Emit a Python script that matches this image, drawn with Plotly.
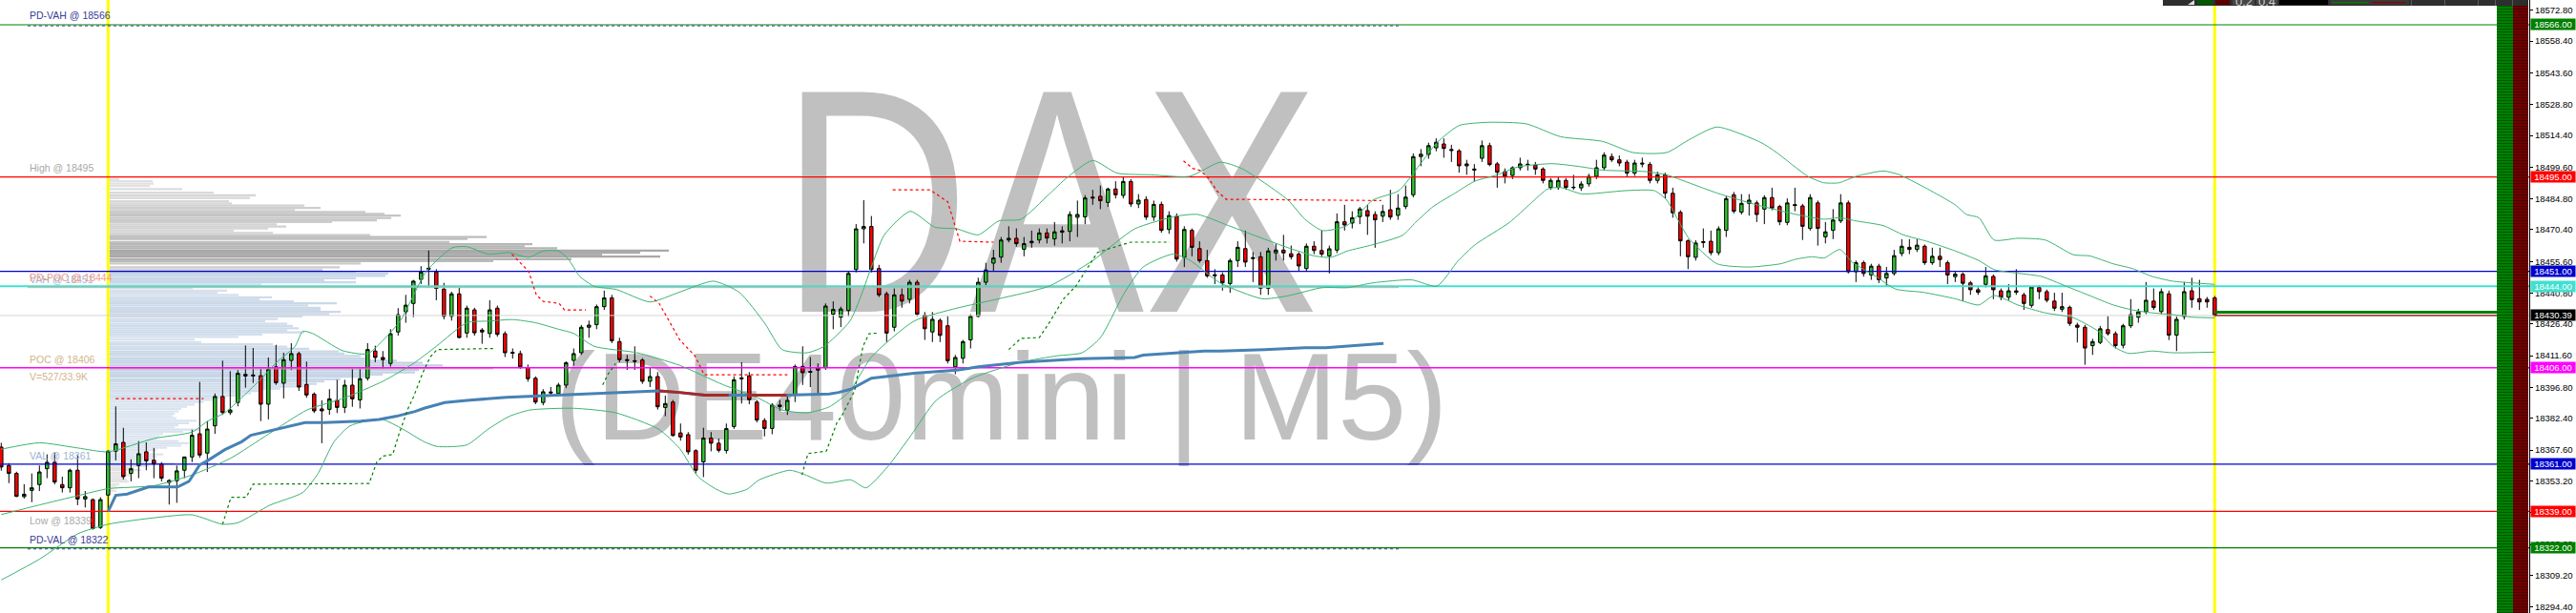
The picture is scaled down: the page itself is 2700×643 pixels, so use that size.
import base64
import plotly.graph_objects as go

# ---------------- candle data (5-minute bars, index 0..290) ----------------
opens = [
 18369.0, 18360.4, 18356.7, 18345.9, 18348.8, 18351.5, 18358.9, 18361.9, 18351.5, 18350.0,
 18358.2, 18344.8, 18344.5, 18331.5, 18346.6, 18367.1, 18371.2, 18356.7, 18360.4, 18366.8,
 18362.9, 18361.1, 18353.4, 18353.3, 18358.2, 18364.4, 18375.2, 18366.2, 18378.9, 18392.6,
 18385.1, 18389.8, 18402.9, 18402.2, 18402.3, 18389.0, 18406.4, 18398.8, 18409.4, 18412.6,
 18398.2, 18393.7, 18386.8, 18386.6, 18390.8, 18387.5, 18397.9, 18391.0, 18401.1, 18413.8,
 18410.8, 18408.0, 18422.7, 18432.1, 18436.0, 18447.2, 18451.9, 18450.7, 18442.7, 18430.0,
 18440.5, 18422.2, 18433.0, 18423.6, 18422.0, 18433.8, 18421.9, 18413.2, 18412.6, 18406.1,
 18401.1, 18389.8, 18394.7, 18394.0, 18397.9, 18409.4, 18413.0, 18424.9, 18426.1, 18434.5,
 18438.6, 18418.2, 18409.8, 18409.3, 18409.6, 18399.7, 18401.9, 18387.5, 18390.0, 18375.6,
 18374.8, 18367.3, 18362.1, 18373.2, 18370.8, 18367.4, 18378.6, 18401.3, 18402.2, 18390.0,
 18381.4, 18377.7, 18387.9, 18386.2, 18393.3, 18406.6, 18404.3, 18406.0, 18406.1, 18431.0,
 18429.6, 18432.7, 18451.8, 18470.8, 18471.9, 18452.3, 18440.5, 18424.9, 18440.0, 18437.9,
 18445.9, 18430.5, 18422.7, 18428.1, 18425.6, 18406.4, 18410.4, 18419.0, 18430.0, 18445.9,
 18454.8, 18457.6, 18465.6, 18466.4, 18461.3, 18464.3, 18465.6, 18468.9, 18466.1, 18469.2,
 18469.6, 18476.2, 18476.4, 18485.6, 18486.0, 18483.1, 18489.4, 18486.4, 18492.9, 18482.4,
 18484.5, 18476.3, 18482.2, 18470.5, 18476.6, 18457.5, 18470.1, 18461.6, 18456.0, 18449.4,
 18449.3, 18445.3, 18456.0, 18461.6, 18457.4, 18457.8, 18443.0, 18459.6, 18460.9, 18459.2,
 18459.0, 18452.3, 18462.7, 18460.7, 18458.2, 18460.9, 18474.1, 18473.5, 18476.5, 18479.3,
 18477.5, 18476.7, 18479.7, 18477.1, 18481.2, 18486.7, 18504.5, 18505.5, 18508.6, 18510.4,
 18507.8, 18507.2, 18501.1, 18498.7, 18503.7, 18509.6, 18501.1, 18497.5, 18495.7, 18499.3,
 18500.6, 18500.5, 18498.7, 18490.1, 18490.1, 18493.4, 18490.0, 18489.9, 18491.8, 18495.3,
 18499.3, 18504.5, 18503.0, 18501.9, 18496.8, 18501.0, 18500.9, 18493.4, 18496.0, 18487.4,
 18478.5, 18465.2, 18457.5, 18464.4, 18465.0, 18459.7, 18470.1, 18486.7, 18478.6, 18482.7,
 18482.9, 18480.0, 18485.4, 18481.2, 18473.8, 18482.1, 18481.5, 18471.0, 18482.9, 18467.1,
 18470.1, 18474.5, 18482.9, 18450.8, 18455.0, 18449.3, 18453.4, 18447.9, 18450.0, 18459.3,
 18462.2, 18461.2, 18462.7, 18455.0, 18458.0, 18455.0, 18448.5, 18449.6, 18445.6, 18442.4,
 18444.9, 18448.6, 18441.9, 18438.9, 18441.9, 18440.0, 18435.1, 18443.4, 18441.5, 18437.1,
 18433.3, 18434.2, 18425.9, 18424.9, 18416.3, 18417.8, 18423.8, 18421.9, 18416.5, 18425.6,
 18429.6, 18432.1, 18437.1, 18432.2, 18440.5, 18421.2, 18429.9, 18441.9, 18438.2, 18437.9,
 18438.6]
highs = [
 18371.0, 18361.5, 18357.5, 18351.7, 18356.7, 18360.4, 18365.6, 18366.3, 18355.2, 18358.9,
 18365.6, 18348.5, 18345.0, 18345.6, 18367.5, 18388.0, 18378.0, 18363.3, 18371.8, 18371.2,
 18368.6, 18362.0, 18354.0, 18360.4, 18364.5, 18377.1, 18399.4, 18381.1, 18394.0, 18409.3,
 18404.4, 18404.9, 18416.4, 18415.2, 18405.6, 18410.8, 18416.7, 18413.0, 18417.5, 18413.5,
 18408.9, 18394.5, 18390.8, 18396.0, 18400.4, 18400.4, 18405.6, 18405.6, 18417.5, 18416.3,
 18413.8, 18424.0, 18433.8, 18440.0, 18447.0, 18453.4, 18460.7, 18452.0, 18445.6, 18441.5,
 18443.4, 18435.0, 18434.0, 18424.5, 18437.5, 18435.0, 18423.0, 18415.0, 18414.0, 18407.5,
 18402.0, 18396.0, 18397.0, 18399.0, 18409.0, 18415.0, 18426.0, 18428.0, 18435.5, 18442.0,
 18440.0, 18420.0, 18412.0, 18416.0, 18410.5, 18406.0, 18404.0, 18393.0, 18391.0, 18380.0,
 18376.0, 18368.0, 18378.0, 18376.0, 18373.0, 18380.0, 18402.0, 18408.6, 18404.0, 18391.0,
 18382.5, 18389.5, 18391.0, 18393.0, 18407.5, 18416.0, 18411.0, 18408.0, 18436.0, 18437.0,
 18434.5, 18451.0, 18473.0, 18484.2, 18476.8, 18454.0, 18441.5, 18443.0, 18443.0, 18447.0,
 18447.0, 18432.0, 18432.0, 18429.0, 18430.0, 18412.0, 18419.0, 18431.0, 18448.0, 18455.0,
 18461.0, 18467.0, 18472.0, 18471.0, 18467.0, 18470.0, 18471.0, 18471.0, 18474.0, 18472.0,
 18479.0, 18484.0, 18486.5, 18489.0, 18491.0, 18490.0, 18493.0, 18495.0, 18494.0, 18487.0,
 18486.0, 18484.0, 18483.5, 18479.0, 18478.0, 18472.0, 18471.0, 18465.0, 18461.0, 18452.0,
 18450.5, 18457.0, 18465.0, 18470.0, 18460.0, 18460.0, 18462.0, 18464.0, 18468.0, 18463.0,
 18460.0, 18464.0, 18465.0, 18470.0, 18463.0, 18478.0, 18482.0, 18479.0, 18481.0, 18482.0,
 18479.0, 18482.0, 18489.0, 18487.0, 18491.0, 18506.0, 18508.0, 18511.0, 18513.0, 18513.0,
 18510.0, 18508.0, 18503.0, 18501.0, 18512.0, 18511.0, 18502.0, 18499.0, 18500.0, 18504.0,
 18503.0, 18502.0, 18499.5, 18494.5, 18495.0, 18494.5, 18496.0, 18493.0, 18496.5, 18503.0,
 18506.5, 18506.0, 18505.0, 18503.0, 18503.0, 18504.0, 18502.0, 18497.5, 18497.0, 18490.0,
 18479.5, 18466.0, 18465.5, 18471.0, 18470.0, 18472.0, 18486.0, 18488.0, 18487.0, 18487.0,
 18484.0, 18486.5, 18490.0, 18482.0, 18485.0, 18490.0, 18482.5, 18487.0, 18484.0, 18474.0,
 18480.0, 18487.0, 18484.0, 18456.0, 18456.0, 18454.5, 18454.5, 18453.0, 18461.0, 18466.0,
 18466.0, 18466.0, 18463.5, 18462.0, 18462.0, 18456.0, 18451.0, 18450.5, 18446.5, 18443.5,
 18453.0, 18449.5, 18443.0, 18445.0, 18452.0, 18441.0, 18444.0, 18444.5, 18442.5, 18441.0,
 18441.0, 18435.0, 18427.0, 18426.0, 18419.5, 18425.5, 18430.0, 18423.0, 18426.5, 18438.0,
 18433.5, 18446.0, 18443.0, 18443.0, 18442.0, 18430.0, 18446.0, 18448.0, 18447.0, 18439.0,
 18439.5]
lows = [
 18358.0, 18352.2, 18345.7, 18345.0, 18343.3, 18348.5, 18354.5, 18351.6, 18347.8, 18347.8,
 18341.9, 18340.8, 18330.5, 18330.8, 18338.9, 18362.8, 18353.9, 18353.0, 18354.5, 18358.2,
 18354.5, 18353.0, 18342.2, 18343.0, 18354.5, 18362.0, 18364.0, 18357.4, 18375.2, 18384.0,
 18384.0, 18388.0, 18396.7, 18398.9, 18381.1, 18381.9, 18398.0, 18391.7, 18404.9, 18395.2,
 18392.0, 18384.9, 18370.8, 18384.1, 18384.9, 18384.9, 18387.8, 18387.0, 18400.0, 18408.6,
 18405.6, 18406.5, 18421.0, 18427.0, 18429.6, 18445.0, 18443.4, 18437.5, 18428.6, 18428.0,
 18419.7, 18420.0, 18421.0, 18417.2, 18420.0, 18420.5, 18411.0, 18410.3, 18405.5, 18399.5,
 18389.0, 18388.5, 18393.0, 18393.0, 18396.5, 18407.0, 18412.0, 18420.0, 18424.0, 18433.0,
 18417.5, 18408.5, 18405.0, 18405.0, 18398.5, 18397.0, 18386.5, 18383.4, 18373.9, 18372.0,
 18365.5, 18356.7, 18355.0, 18367.0, 18366.5, 18366.0, 18377.5, 18389.3, 18389.0, 18380.5,
 18374.0, 18375.0, 18386.0, 18384.0, 18390.0, 18398.0, 18397.0, 18394.0, 18405.0, 18424.0,
 18425.0, 18430.0, 18450.5, 18464.0, 18450.5, 18439.0, 18418.0, 18423.0, 18434.0, 18436.0,
 18430.0, 18419.0, 18418.0, 18418.0, 18408.0, 18403.0, 18408.0, 18415.0, 18429.5, 18444.5,
 18451.0, 18455.0, 18464.5, 18462.5, 18458.0, 18462.0, 18464.0, 18464.0, 18463.0, 18464.0,
 18465.0, 18467.0, 18473.0, 18482.0, 18480.0, 18481.0, 18485.0, 18485.0, 18481.0, 18480.5,
 18475.0, 18474.5, 18469.0, 18468.5, 18455.5, 18453.0, 18458.0, 18455.0, 18448.0, 18445.0,
 18442.0, 18441.0, 18453.0, 18453.0, 18446.0, 18440.0, 18440.0, 18456.0, 18456.0, 18456.5,
 18451.0, 18451.0, 18459.0, 18458.0, 18450.0, 18459.5, 18470.0, 18471.0, 18473.0, 18468.0,
 18462.0, 18474.0, 18475.0, 18475.0, 18480.0, 18485.5, 18500.0, 18503.5, 18507.0, 18504.0,
 18502.0, 18497.0, 18496.0, 18493.0, 18502.0, 18500.0, 18490.0, 18492.0, 18494.0, 18498.0,
 18498.0, 18496.0, 18492.0, 18489.0, 18489.0, 18489.0, 18489.0, 18488.5, 18490.5, 18494.0,
 18498.0, 18502.0, 18500.0, 18495.0, 18495.5, 18499.5, 18492.0, 18492.0, 18485.0, 18476.0,
 18458.0, 18452.0, 18456.0, 18462.0, 18458.5, 18458.5, 18467.0, 18478.0, 18477.5, 18477.0,
 18474.0, 18473.0, 18479.5, 18472.5, 18472.5, 18479.0, 18465.6, 18470.0, 18463.0, 18464.0,
 18466.0, 18473.5, 18450.0, 18446.0, 18448.5, 18447.0, 18445.5, 18444.0, 18449.0, 18458.0,
 18459.0, 18460.0, 18454.0, 18454.0, 18453.0, 18445.0, 18446.0, 18437.0, 18440.0, 18440.0,
 18443.5, 18438.0, 18437.5, 18437.5, 18440.0, 18433.0, 18434.0, 18438.0, 18436.5, 18432.5,
 18432.0, 18425.5, 18417.8, 18407.4, 18412.0, 18417.0, 18421.0, 18415.0, 18415.0, 18424.5,
 18427.0, 18431.0, 18433.0, 18431.0, 18418.9, 18413.8, 18428.5, 18434.0, 18433.0, 18434.0,
 18430.0]
closes = [
 18359.7, 18356.7, 18346.0, 18347.0, 18350.0, 18357.4, 18361.9, 18352.7, 18350.0, 18358.2,
 18344.8, 18345.9, 18331.0, 18344.5, 18367.1, 18370.5, 18355.2, 18358.9, 18365.9, 18362.6,
 18361.1, 18354.5, 18352.5, 18357.9, 18364.4, 18374.5, 18365.3, 18377.4, 18392.6, 18385.1,
 18386.3, 18403.4, 18402.2, 18402.6, 18389.0, 18405.3, 18399.0, 18409.8, 18412.6, 18397.0,
 18393.3, 18385.9, 18385.9, 18391.5, 18387.5, 18397.9, 18391.5, 18400.9, 18414.5, 18410.8,
 18409.8, 18421.9, 18430.8, 18435.2, 18446.4, 18450.7, 18452.4, 18443.0, 18430.0, 18440.5,
 18420.1, 18433.8, 18422.3, 18422.7, 18433.0, 18421.6, 18413.0, 18412.8, 18406.4, 18400.9,
 18390.0, 18394.8, 18394.3, 18397.9, 18408.3, 18412.6, 18424.9, 18425.9, 18434.5, 18438.6,
 18418.6, 18409.8, 18409.4, 18409.0, 18399.7, 18401.9, 18387.8, 18389.3, 18374.4, 18373.7,
 18366.8, 18358.2, 18373.2, 18370.8, 18367.5, 18377.6, 18400.4, 18400.9, 18391.1, 18381.6,
 18377.7, 18388.6, 18388.6, 18390.8, 18406.6, 18403.7, 18403.9, 18404.9, 18434.8, 18433.2,
 18433.4, 18450.0, 18470.8, 18471.9, 18451.8, 18440.0, 18422.2, 18440.0, 18437.1, 18445.9,
 18431.0, 18424.2, 18428.6, 18421.1, 18409.3, 18410.8, 18418.2, 18430.0, 18445.9, 18451.6,
 18457.2, 18465.6, 18466.4, 18463.9, 18463.9, 18465.0, 18468.9, 18466.5, 18469.4, 18469.9,
 18477.5, 18477.5, 18485.2, 18485.2, 18483.9, 18489.4, 18486.7, 18492.9, 18482.4, 18484.2,
 18476.3, 18482.2, 18470.1, 18477.0, 18456.7, 18470.5, 18462.2, 18456.0, 18448.9, 18449.0,
 18445.6, 18456.0, 18462.2, 18455.3, 18457.0, 18443.1, 18460.5, 18460.9, 18459.6, 18457.8,
 18453.5, 18462.7, 18460.7, 18459.0, 18461.5, 18474.1, 18472.6, 18476.0, 18480.1, 18476.7,
 18475.0, 18478.9, 18476.3, 18480.5, 18485.6, 18504.5, 18505.6, 18509.6, 18511.2, 18508.3,
 18507.4, 18500.2, 18500.2, 18498.3, 18509.6, 18500.8, 18497.2, 18495.3, 18499.3, 18501.1,
 18500.9, 18498.7, 18493.4, 18493.4, 18493.4, 18490.1, 18490.2, 18491.7, 18495.3, 18499.3,
 18505.2, 18503.0, 18501.5, 18496.8, 18501.5, 18501.4, 18493.4, 18496.0, 18487.4, 18478.3,
 18465.2, 18457.8, 18464.2, 18464.8, 18459.7, 18470.8, 18484.9, 18479.0, 18482.7, 18484.2,
 18477.5, 18485.4, 18480.5, 18474.1, 18482.9, 18481.7, 18472.0, 18485.4, 18471.0, 18469.4,
 18474.9, 18482.9, 18450.8, 18455.0, 18450.0, 18453.4, 18447.1, 18450.0, 18458.3, 18462.7,
 18461.2, 18463.2, 18455.0, 18458.0, 18456.5, 18449.3, 18449.7, 18445.4, 18442.4, 18441.2,
 18448.9, 18442.4, 18438.9, 18441.9, 18441.2, 18436.0, 18443.7, 18441.5, 18437.5, 18433.8,
 18434.5, 18426.7, 18424.9, 18415.2, 18418.2, 18424.2, 18421.9, 18416.3, 18425.6, 18430.8,
 18432.1, 18437.5, 18434.1, 18441.5, 18421.2, 18428.6, 18441.5, 18437.8, 18436.7, 18436.7,
 18430.39]

# ---------------- Bollinger bands (bar index, price) ----------------
bb_upper_x = [0, 5, 10, 14, 20, 25, 27, 29.3, 31.5, 33.7, 36.1, 38.5, 39.5, 40.8, 44.7, 48, 49.8, 52.3, 55.7, 59.1,
              61, 63.8, 66.6, 69.1, 71, 73, 74.3, 75.8, 77.7, 80.6, 85, 88.8, 93.3, 96.7, 100.1, 102.3, 105.6, 107.8,
              111.2, 112.8, 114, 115.7, 119.1, 122.3, 125.2, 128, 130.7, 133.6, 137.3, 139.6, 143, 146.2, 150.7, 155.7,
              159.7, 162.5, 165.2, 168.6, 170.8, 173.1, 176.3, 179.7, 183.1, 185.8, 188.1, 191, 194.8, 199.8, 204.3,
              209.8, 213.8, 218.2, 221.1, 224.8, 230.6, 232.6, 236.7, 238.8, 240.8, 243, 246.6, 248.7, 252.8, 256,
              257.5, 259.1, 261.1, 264.2, 267.8, 271.5, 273.6, 276.7, 279.2, 281.8, 284.5, 287.1, 290]
bb_upper_y = [18368, 18371, 18368.6, 18366.8, 18373, 18376, 18381, 18385, 18392, 18399.6, 18408.6, 18416, 18423, 18422,
              18414, 18412.5, 18418, 18428, 18451, 18462, 18462.5, 18459, 18459.7, 18457.5, 18460.5, 18460.5, 18456.7,
              18448.6, 18444, 18442.5, 18436.7, 18441.2, 18446.4, 18441.2, 18426.4, 18414.5, 18413, 18416, 18427.8,
              18441, 18453, 18468, 18479, 18471.6, 18470.8, 18468, 18474.5, 18475.3, 18487, 18494.6, 18502.7, 18496.8,
              18496, 18495.3, 18501.9, 18499, 18493, 18484.2, 18475.3, 18470, 18472.3, 18484.2, 18488.6, 18500.5,
              18511, 18519, 18520.5, 18519.8, 18513.8, 18511.6, 18506.4, 18506.4, 18512.3, 18518.3, 18511, 18506.4,
              18495.3, 18492.3, 18492.3, 18495.3, 18497.8, 18496, 18488.6, 18482, 18477.5, 18476, 18465.6, 18466.4,
              18465.6, 18458.7, 18458.2, 18454.5, 18452.3, 18448.6, 18446.4, 18445.6, 18444.9]
bb_mid_x = [0, 5, 10, 14, 20, 25, 30, 35, 40, 45, 50, 54, 57, 61, 64, 67, 70, 73, 75, 77.7, 83.3, 88.9, 94.5, 99,
            102.3, 105.6, 108.5, 111.2, 114, 119.6, 125.2, 130.7, 137.3, 143, 148.5, 154.1, 156.8, 160.8, 165.2,
            168.6, 172, 174.2, 176.4, 179.7, 183.6, 185.3, 187.6, 190.3, 193.1, 196, 198.7, 203.2, 207.1, 209.8,
            215.5, 218.2, 221.1, 224.8, 230, 235.2, 238.8, 240.9, 243, 246.6, 249.2, 252.3, 256, 259.1, 261.1,
            264.2, 267.3, 270.5, 273.6, 276.7, 279.2, 281.8, 284.5, 287.1, 290]
bb_mid_y = [18337.5, 18342, 18346.3, 18349.6, 18351, 18356, 18363.7, 18375, 18386.2, 18392, 18399.7, 18408, 18416,
            18427, 18427.8, 18428.5, 18427, 18424, 18422, 18416, 18413, 18407.1, 18398.2, 18392.2, 18386.3, 18385,
            18387.8, 18395.2, 18411, 18427.8, 18433.8, 18438.2, 18444.1, 18456, 18470.8, 18476.8, 18477.5, 18472.3,
            18466.4, 18462, 18458.2, 18457.5, 18460.5, 18463.4, 18467.8, 18473.8, 18481.2, 18487.1, 18493.1, 18496,
            18499.7, 18501.2, 18499.7, 18498.2, 18497.5, 18496, 18492.3, 18487.5, 18482, 18477.5, 18475.3, 18476,
            18474.5, 18472.3, 18468, 18465, 18460.5, 18456, 18451.8, 18450.1, 18448.6, 18444.1, 18439.7, 18435.3,
            18433, 18431.6, 18430.8, 18429.6, 18429.3]
bb_lower_x = [0, 5, 10, 14, 20, 25, 29, 31, 35.2, 39.5, 41.5, 43.6, 45.7, 49.8, 52.6, 55.4, 57.1, 61, 63.8, 66.6,
              69.3, 75, 80.5, 86.1, 88.9, 91.3, 93.7, 95.3, 97.7, 99.3, 103.3, 104.9, 108.1, 111.3, 113.3, 116.1,
              119.2, 122.5, 127.2, 133.6, 138.4, 141.6, 144, 147.2, 149.6, 153.5, 155.7, 159.7, 165.2, 168.6, 173.1,
              176.4, 179.7, 184.8, 188.1, 190.9, 193.1, 197.6, 200.4, 202.6, 204.3, 207.1, 212.7, 216.6, 218.2, 221.1,
              224.8, 229, 233.1, 235.2, 237.3, 238.8, 240.9, 242.5, 245.6, 248.2, 251.8, 256, 259.1, 261.1, 264.2,
              267.8, 270.5, 271.5, 274.6, 276.7, 278.7, 281.8, 284.5, 290]
bb_lower_y = [18307, 18316.7, 18328.5, 18333, 18336, 18337.4, 18333, 18333.7, 18341.9, 18347.8, 18356.7, 18371.5,
              18378.9, 18382, 18377.4, 18371.5, 18369.3, 18370, 18377.4, 18383.4, 18386.3, 18387.1, 18385, 18377.4,
              18368.3, 18355.2, 18349.3, 18347.1, 18349.3, 18353.7, 18358.2, 18356.7, 18352.2, 18353.7, 18350,
              18359.7, 18374.5, 18390.8, 18401.1, 18408.6, 18411.6, 18413, 18420, 18441.2, 18453, 18459, 18456.2,
              18445.6, 18438.2, 18439.6, 18443.4, 18443.4, 18445.6, 18447, 18444.1, 18456, 18463.4, 18473.8, 18482.7,
              18489.4, 18490.1, 18487.1, 18488.6, 18488.6, 18484.2, 18466.4, 18454.5, 18453, 18454.5, 18456.7,
              18457.8, 18457.2, 18461.2, 18455.3, 18448.6, 18442.7, 18441.2, 18438.2, 18435.3, 18439.7, 18435.3,
              18431.6, 18430.1, 18429.3, 18423.4, 18416, 18412.7, 18413.8, 18413, 18413.3]

# ---------------- session VWAP ----------------
vwap_x = [14, 15, 16.5, 19.3, 23.1, 24.6, 26, 27, 29.3, 31.5, 32.7, 35.6, 39.8, 42.3, 47.1, 49.5, 51.8, 54.2, 55.4,
          58.1, 61, 66.2, 71, 75.7, 80.6, 86.1, 88.8, 92.2, 95.6, 97.8, 102.8, 108.5, 109.7, 111.3, 114, 119.6,
          125.2, 128, 133.6, 137.3, 141.6, 148.5, 149.6, 157.6, 159.7, 165.5, 170.8, 173.5, 181.1]
vwap_y = [18338.9, 18346.5, 18347.1, 18350.4, 18350.4, 18353, 18360.7, 18362.6, 18367.8, 18371.5, 18374.5, 18377,
          18380.4, 18380.4, 18381.1, 18381.9, 18383.4, 18385.6, 18387.1, 18389.8, 18390.8, 18392.2, 18393, 18393.8,
          18394.5, 18395.2, 18394.5, 18393.2, 18393.2, 18393.2, 18393.2, 18393.8, 18394.5, 18396, 18401.1, 18403.4,
          18404.9, 18406.4, 18408.6, 18409.3, 18410.2, 18410.8, 18411.9, 18413.8, 18413.8, 18414.5, 18415.3,
          18415.3, 18417.4]
vwap_dn1_x = [86.2, 88.8, 92.2, 95.3]
vwap_dn1_y = [18395.2, 18394.5, 18393.2, 18393.2]
vwap_dn2_x = [97.7, 102.9]
vwap_dn2_y = [18393.2, 18393.2]

# ---------------- trailing stop (red above / green below) ----------------
stop_red = [
    ([15, 26.5], [18391.6, 18391.6]),
    ([66.9, 68, 69.1, 70.1, 71, 73.1, 73.8, 76.6], [18459, 18455, 18451, 18440, 18437, 18436, 18433, 18433]),
    ([85, 86.2, 88.9, 90.9, 92.1, 103], [18439.5, 18436, 18419, 18411.5, 18402.7, 18402.7]),
    ([116.8, 121.7, 124, 125.6, 130], [18489, 18489, 18483.4, 18465, 18464.6]),
    ([154.9, 156.1, 157.1, 158.2, 159.3, 160.5, 180.8], [18502.5, 18499, 18498, 18494.3, 18488.4, 18484.6, 18484]),
]
stop_green = [
    ([29, 30.1, 32.1, 33, 48.2, 49.2, 50, 51.3, 52.1, 53.3, 54, 55.2, 56.2, 57.1, 64.5],
     [18333, 18345.6, 18345.6, 18351.7, 18352, 18362, 18364.8, 18365.6, 18375, 18387, 18392.3, 18403.4, 18411,
      18414.5, 18415]),
    ([78.8, 79.5, 80.5], [18398, 18403, 18408]),
    ([104.9, 105.7, 108.1, 109.5, 110.1, 111.8, 112.9, 113.7, 115],
     [18356, 18366, 18367.1, 18380.5, 18383.4, 18395.2, 18416, 18421.9, 18422.2]),
    ([132, 133.6, 136, 137.2, 139.2, 140.8, 142, 143.6, 144.8, 148, 153.1],
     [18414.5, 18419.7, 18420.1, 18426.4, 18438.2, 18444.1, 18450.8, 18459.7, 18461.2, 18464.6, 18464.6]),
]

# ---------------- volume profile of the session ----------------
prof_price = [
 18494.0, 18493.0, 18491.9, 18490.8, 18489.3, 18487.7, 18486.4, 18485.2, 18483.7, 18482.7, 18481.7, 18480.5,
 18479.6, 18478.7, 18477.8, 18477.0, 18475.9, 18474.8, 18474.0, 18472.9, 18471.9, 18471.0, 18470.0, 18468.9,
 18467.9, 18467.0, 18466.1, 18464.6, 18463.7, 18462.7, 18461.8, 18460.6, 18459.7, 18458.8, 18457.9, 18456.7,
 18455.8, 18454.7, 18452.9, 18451.8,
 18450.8, 18449.9, 18448.9, 18447.8, 18446.9, 18445.9, 18444.9, 18443.1, 18442.0, 18441.0, 18440.0, 18438.9,
 18438.0, 18437.0, 18436.1, 18435.1, 18434.0, 18433.0, 18432.1, 18431.1, 18430.0, 18428.7, 18427.7, 18426.5,
 18425.5, 18424.4, 18423.4, 18422.5, 18421.5, 18420.4, 18419.2, 18418.0, 18417.0, 18415.9, 18414.8, 18413.6,
 18412.6, 18411.5, 18410.3, 18409.3, 18408.3, 18407.1, 18406.0, 18404.9, 18403.8, 18402.8, 18401.8, 18400.6,
 18399.6, 18398.5, 18397.3, 18396.3, 18395.2, 18394.2, 18393.1, 18392.0, 18391.0, 18390.0, 18388.8, 18387.8,
 18386.8, 18385.6, 18384.5, 18383.5, 18382.5, 18381.3, 18380.2, 18379.2, 18378.2, 18377.1, 18376.1, 18375.0,
 18373.9, 18372.8, 18371.8, 18370.8, 18369.7, 18368.7, 18367.6, 18366.6, 18365.6, 18364.5, 18363.5, 18362.5,
 18361.4,
 18360.2, 18359.2, 18358.2, 18357.0, 18355.9, 18354.9, 18353.9, 18352.9, 18351.6, 18350.6, 18349.6, 18348.6]
prof_vol = [
 10, 45, 46, 42, 76, 109, 153, 147, 125, 128, 204, 221,
 194, 268, 288, 305, 295, 280, 233, 175, 185, 166, 130, 171,
 273, 395, 375, 356, 443, 435, 469, 586, 556, 516, 577, 484,
 402, 263, 241, 223,
 258, 292, 289, 258, 225, 258, 159, 87, 123, 113, 135, 170,
 157, 193, 238, 208, 221, 221, 242, 230, 202, 176, 163, 186,
 192, 198, 186, 204, 160, 135, 89, 96, 171, 186, 209, 240,
 246, 263, 271, 301, 328, 349, 336, 324, 320, 286, 271, 242,
 225, 217, 209, 179, 156, 148, 140, 121, 110, 98, 89, 81,
 75, 72, 68, 66, 70, 91, 83, 72, 68, 95, 77, 56,
 52, 49, 72, 83, 75, 60, 49, 41, 56, 49, 45, 41,
 68,
 41, 26, 33, 18, 22, 14, 18, 20, 10, 7, 3, 7]

# ---------------- key levels ----------------
PD_VAH, DAY_HIGH, VAH, PD_POC = 18566, 18495, 18451, 18444
LAST_PRICE, ASK_PRICE = 18430.39, 18431.9
POC, VAL, DAY_LOW, PD_VAL = 18406, 18361, 18339, 18322
SESSION_START, SESSION_END = 14, 290
axis_ticks = [18572.80, 18558.40, 18543.60, 18528.80, 18514.40, 18499.60, 18484.80, 18470.40, 18455.60, 18440.80,
              18426.40, 18411.60, 18396.80, 18382.40, 18367.60, 18353.20, 18338.40, 18323.60, 18309.20, 18294.40]

# ---------------- layout constants ----------------
W, H = 2700, 643
PLOT_W = 2651
PX_PER_BAR = 8.0
X_MIN, X_MAX = -0.1625, 331.21
Y_MIN, Y_MAX = 18291.6, 18577.56
PRICE_PER_PX = (Y_MAX - Y_MIN) / H
FONT = "Liberation Sans, Arial, sans-serif"

def kx(px):
    return (px - 1.3) / PX_PER_BAR

def py_price(py):
    return Y_MAX - py * PRICE_PER_PX

def paper_x(px):
    return px / PLOT_W

def paper_y(py):
    return 1 - py / H

fig = go.Figure()

# volume profile
maxv = max(prof_vol)
prof_colors = []
for p, v in zip(prof_price, prof_vol):
    t = v / maxv
    if VAL <= p <= VAH:
        r = int(226 - 56 * t); g = int(234 - 42 * t); b = int(243 - 24 * t)
    else:
        r = g = b = int(230 - 62 * t)
    prof_colors.append(f"rgb({r},{g},{b})")
fig.add_trace(go.Bar(orientation="h", y=prof_price, x=[v / PX_PER_BAR for v in prof_vol],
                     base=kx(115), width=1.0, marker=dict(color=prof_colors, line=dict(width=0)),
                     hoverinfo="skip", showlegend=False))

# candles
idx = list(range(len(closes)))
fig.add_trace(go.Candlestick(x=idx, open=opens, high=highs, low=lows, close=closes,
                             increasing=dict(line=dict(color="black", width=1), fillcolor="#2ec52e"),
                             decreasing=dict(line=dict(color="black", width=1), fillcolor="#ff0000"),
                             whiskerwidth=0, showlegend=False, hoverinfo="skip"))

def hline(price, color, width, x0=X_MIN, x1=X_MAX, dash="solid"):
    fig.add_trace(go.Scatter(x=[x0, x1], y=[price, price], mode="lines",
                             line=dict(color=color, width=width, dash=dash),
                             hoverinfo="skip", showlegend=False))

hline(LAST_PRICE, "#d4d4d4", 1)
hline(PD_VAH, "#008000", 1.2)
hline(PD_VAH - 0.5, "#3b3ba0", 1, kx(29), kx(1466), "dot")
hline(DAY_HIGH, "#ff0000", 1.2)
hline(VAH, "#0000cd", 1.3)
hline(PD_POC - 0.6, "#f0a090", 1, kx(29), kx(1466))
hline(PD_POC, "#40e0d0", 2)
hline(POC - 0.5, "#d2b48c", 1, kx(115), kx(517))
hline(POC, "#ff00ff", 1.5)
hline(VAL, "#0000cd", 1.3)
hline(DAY_LOW, "#ff0000", 1.2)
hline(PD_VAL, "#008000", 1.2)
hline(PD_VAL - 0.5, "#3b3ba0", 1, kx(29), kx(1466), "dot")
hline(ASK_PRICE, "#008000", 3, SESSION_END, kx(2617))
hline(LAST_PRICE, "#8b0000", 1.2, SESSION_END, kx(2617))

# bollinger bands
for bx, by in ((bb_upper_x, bb_upper_y), (bb_mid_x, bb_mid_y), (bb_lower_x, bb_lower_y)):
    fig.add_trace(go.Scatter(x=bx, y=by, mode="lines", line=dict(color="#3cb371", width=1, shape="spline",
                                                                 smoothing=0.6),
                             hoverinfo="skip", showlegend=False))

# vwap
fig.add_trace(go.Scatter(x=vwap_x, y=vwap_y, mode="lines", line=dict(color="#4682b4", width=3),
                         hoverinfo="skip", showlegend=False))
for bx, by in ((vwap_dn1_x, vwap_dn1_y), (vwap_dn2_x, vwap_dn2_y)):
    fig.add_trace(go.Scatter(x=bx, y=by, mode="lines", line=dict(color="#a52a2a", width=3),
                             hoverinfo="skip", showlegend=False))

# trailing stops
for sx, sy in stop_red:
    fig.add_trace(go.Scatter(x=sx, y=sy, mode="lines", line=dict(color="#ff0000", width=1.2, dash="dot"),
                             hoverinfo="skip", showlegend=False))
for sx, sy in stop_green:
    fig.add_trace(go.Scatter(x=sx, y=sy, mode="lines", line=dict(color="#008000", width=1.2, dash="dot"),
                             hoverinfo="skip", showlegend=False))

# ---------------- watermark "DAX" as a stretched svg text image ----------------
dax_svg = ('<svg xmlns="http://www.w3.org/2000/svg" width="197" height="72" viewBox="7.6 28.4 197.6 71.6" '
           'preserveAspectRatio="none"><text x="0" y="100" font-family="Liberation Sans, Arial, sans-serif" '
           'font-size="100" fill="#c0c0c0">DAX</text></svg>')
dax_src = "data:image/svg+xml;base64," + base64.b64encode(dax_svg.encode()).decode()
DAX_BOX = (839, 1381, 87, 327)   # left, right, top, bottom in pixels
images = [dict(source=dax_src, xref="x", yref="y", x=kx(DAX_BOX[0]), y=py_price(DAX_BOX[2]),
               sizex=(DAX_BOX[1] - DAX_BOX[0]) / PX_PER_BAR,
               sizey=(DAX_BOX[3] - DAX_BOX[2]) * PRICE_PER_PX,
               xanchor="left", yanchor="top", sizing="stretch", layer="below", opacity=1)]

shapes = []
shapes.append(dict(type="rect", xref="x", yref="y", x0=119, x1=143, y0=18390, y1=18405.4, layer="below",
                   line=dict(width=0), fillcolor="rgba(0,0,0,0)",
                   label=dict(text="(DE40mini | M5)", textposition="middle center",
                              font=dict(size=130, color="#c0c0c0", family=FONT))))
# session separators
for sx in (SESSION_START, SESSION_END):
    shapes.append(dict(type="line", xref="x", yref="paper", x0=sx, x1=sx, y0=0, y1=1, layer="below",
                       line=dict(color="#ffff00", width=3)))
# depth-of-market columns
shapes.append(dict(type="rect", xref="paper", yref="paper", x0=paper_x(2617), x1=paper_x(2634), y0=0, y1=1,
                   fillcolor="#008000", line=dict(width=0), layer="above"))
shapes.append(dict(type="rect", xref="paper", yref="paper", x0=paper_x(2634), x1=paper_x(2650), y0=0, y1=1,
                   fillcolor="#700000", line=dict(width=0), layer="above"))
g_path = "".join(f"M{paper_x(2617)},{paper_y(py + 0.5)} H{paper_x(2634)} " for py in range(0, H, 3))
r_path = "".join(f"M{paper_x(2634)},{paper_y(py + 0.5)} H{paper_x(2650)} " for py in range(0, H, 3))
shapes.append(dict(type="path", xref="paper", yref="paper", path=g_path, line=dict(color="#005800", width=1),
                   layer="above"))
shapes.append(dict(type="path", xref="paper", yref="paper", path=r_path, line=dict(color="#4a0000", width=1),
                   layer="above"))
# terminal toolbar strip at the top
def tb_rect(x0, x1, y0, y1, color):
    shapes.append(dict(type="rect", xref="paper", yref="paper", x0=paper_x(x0), x1=paper_x(x1),
                       y0=paper_y(y1), y1=paper_y(y0), fillcolor=color, line=dict(width=0), layer="above"))
tb_rect(2267, 2650, 0, 6, "#2e2e2e")
tb_rect(2303, 2319, 0, 5, "#005800")
tb_rect(2322, 2337, 0, 5, "#5a0000")
tb_rect(2340, 2363, 0, 5, "#464646")
tb_rect(2365, 2387, 0, 5, "#464646")
tb_rect(2389, 2440, 0, 5, "#000000")
tb_rect(2442, 2525, 0, 5, "#3a3a3a")
tb_rect(2444, 2482, 2, 3.2, "#008000")
tb_rect(2486, 2522, 2, 3.2, "#8b0000")
for sx in (2527, 2562, 2597, 2615, 2633):
    tb_rect(sx, sx + 1, 0, 6, "#5a5a5a")
shapes.append(dict(type="path", xref="paper", yref="paper", layer="above", fillcolor="#e0e0e0",
                   line=dict(width=0),
                   path=f"M{paper_x(2293)},{paper_y(5)} L{paper_x(2300)},{paper_y(5)} L{paper_x(2300)},{paper_y(0)} Z"))

annotations = []
def left_label(text, price, shift, color):
    annotations.append(dict(xref="paper", yref="y", x=paper_x(29), y=price, yshift=shift, xanchor="left",
                            yanchor="middle", text=text, showarrow=False,
                            font=dict(size=10.5, color=color, family=FONT)))

left_label("PD-VAH @ 18566", PD_VAH, 10, "#3b3b98")
left_label("High @ 18495", DAY_HIGH, 9.5, "#a9a9a9")
left_label("VAH @ 18451", VAH, -8, "#9fb4d0")
left_label("PD-POC @ 18444", PD_POC, 9, "#f09a8a")
left_label("POC @ 18406", POC, 9, "#d2b48c")
left_label("V=527/33.9K", POC, -9.3, "#d2b48c")
left_label("VAL @ 18361", VAL, 9, "#9fb4d0")
left_label("Low @ 18339", DAY_LOW, -9.6, "#a9a9a9")
left_label("PD-VAL @ 18322", PD_VAL, 8.7, "#3b3b98")

for price, bg in ((PD_VAH, "#008000"), (DAY_HIGH, "#ff0000"), (VAH, "#0000cd"), (PD_POC, "#40e0d0"),
                  (LAST_PRICE, "#000000"), (POC, "#ff00ff"), (VAL, "#0000cd"), (DAY_LOW, "#ff0000"),
                  (PD_VAL, "#008000")):
    annotations.append(dict(xref="paper", yref="y", x=1, xshift=1, y=price, xanchor="left", yanchor="middle",
                            text=f"{price:.2f}", showarrow=False, bgcolor=bg, width=46, height=11,
                            borderpad=0, align="center", font=dict(size=9.5, color="white", family=FONT)))

for txt, px in (("0.2", 2351.5), ("0.4", 2376)):
    annotations.append(dict(xref="paper", yref="paper", x=paper_x(px), y=1, yshift=-1, xanchor="center",
                            yanchor="middle", text=txt, showarrow=False,
                            font=dict(size=13, color="#cfcfcf", family=FONT)))

fig.update_layout(
    width=W, height=H, margin=dict(l=0, r=W - PLOT_W, t=0, b=0, pad=0),
    paper_bgcolor="white", plot_bgcolor="white", showlegend=False,
    font=dict(family=FONT), boxgap=0.38,
    xaxis=dict(range=[X_MIN, X_MAX], visible=False, showgrid=False, zeroline=False,
               rangeslider=dict(visible=False), fixedrange=True),
    yaxis=dict(range=[Y_MIN, Y_MAX], side="right", showgrid=False, zeroline=False,
               tickvals=axis_ticks, ticktext=[f"{t:.2f}" for t in axis_ticks],
               ticks="outside", ticklen=3, tickcolor="black", showline=True, linecolor="black", linewidth=1,
               tickfont=dict(size=9.5, color="black", family=FONT), fixedrange=True),
    shapes=shapes, annotations=annotations, images=images,
)

fig.write_html("out.html", config={"displayModeBar": False},
               post_script="document.body.style.margin='0';document.body.style.padding='0';"
                           "document.documentElement.style.overflow='hidden';")
